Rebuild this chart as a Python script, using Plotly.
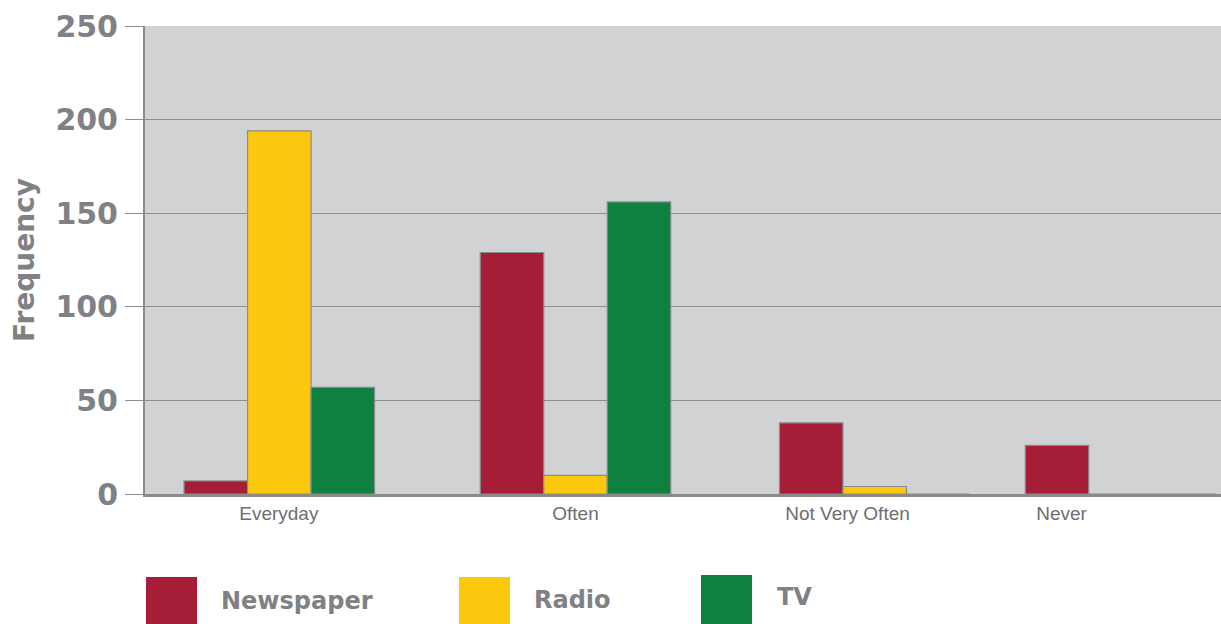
import plotly.graph_objects as go

# Survey results: how often each medium is used
categories = ["Everyday", "Often", "Not Very Often", "Never"]
newspaper = [7, 129, 38, 26]
radio = [194, 10, 4, 0]
tv = [57, 156, 0, 0]

series_names = ["Newspaper", "Radio", "TV"]
series_values = [newspaper, radio, tv]
series_colors = ["#a51d37", "#fbc80e", "#0e8140"]

y_ticks = [0, 50, 100, 150, 200, 250]

# Horizontal layout on a linear x axis (units = pixels of the plot area)
group_centers = [134.3, 430.5, 729.7, 975.5]
label_centers = [133.8, 430.5, 702.5, 916.5]
bar_width = 63.5

GRAY_TEXT = "#808184"
GRID = "#8e8e8e"
BOLD_FONT = "DejaVu Sans"

fig = go.Figure()
for i, (name, vals, col) in enumerate(zip(series_names, series_values, series_colors)):
    fig.add_trace(go.Bar(
        x=group_centers,
        y=vals,
        name=name,
        width=bar_width,
        offset=-1.5 * bar_width + i * bar_width,
        marker=dict(color=col, line=dict(color="#8c8c8c", width=1.2)),
        showlegend=False,
    ))

fig.update_layout(
    width=1221,
    height=624,
    margin=dict(l=145, r=0, t=26, b=130),
    paper_bgcolor="white",
    plot_bgcolor="#d1d2d4",
    barmode="overlay",
    xaxis=dict(
        range=[0, 1076],
        tickmode="array",
        tickvals=label_centers,
        ticktext=categories,
        showgrid=False,
        zeroline=False,
        showline=True,
        linecolor="#8a8a8a",
        linewidth=3,
        ticks="",
        tickfont=dict(family="Liberation Sans", size=19, color="#6d6e71"),
        fixedrange=True,
    ),
    yaxis=dict(
        range=[0, 250],
        tickvals=y_ticks,
        showgrid=True,
        gridcolor=GRID,
        gridwidth=1,
        zeroline=False,
        showline=True,
        linecolor="#8a8a8a",
        linewidth=2,
        ticks="outside",
        ticklen=18,
        tickcolor=GRID,
        tickwidth=1,
        ticklabelstandoff=1,
        tickfont=dict(family=BOLD_FONT, size=30, color=GRAY_TEXT, weight="bold"),
        title=dict(
            text="Frequency",
            font=dict(family=BOLD_FONT, size=28, color=GRAY_TEXT, weight="bold"),
            standoff=13,
        ),
        fixedrange=True,
    ),
)

# Legend drawn as large swatches with labels underneath the plot
legend_swatch_x = [1, 314, 556]
legend_swatch_top = [-83, -83, -81]
legend_text_x = [74, 387, 630]
legend_text_y = [-107, -106, -103]
for name, col, sx, st, tx, ty in zip(series_names, series_colors, legend_swatch_x,
                                     legend_swatch_top, legend_text_x, legend_text_y):
    fig.add_shape(
        type="rect", xref="paper", yref="paper",
        xsizemode="pixel", ysizemode="pixel",
        xanchor=0, yanchor=0,
        x0=sx, x1=sx + 51, y0=st, y1=-140,
        fillcolor=col, line=dict(width=0),
    )
    fig.add_annotation(
        xref="paper", yref="paper", x=0, y=0,
        xanchor="left", yanchor="middle",
        xshift=tx, yshift=ty,
        text=name, showarrow=False,
        font=dict(family=BOLD_FONT, size=24, color=GRAY_TEXT, weight="bold"),
    )

fig.write_html("out.html")
